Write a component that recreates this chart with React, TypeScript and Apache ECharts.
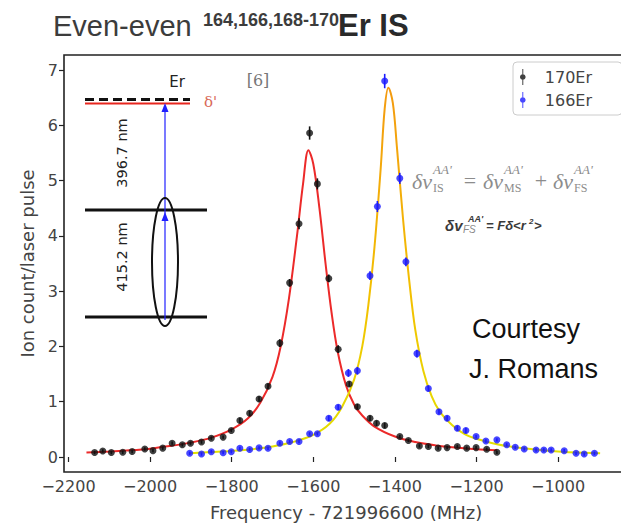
import React, { useEffect, useRef } from 'react';
import * as echarts from 'echarts';

// ---- 170Er measured points (MHz offset, ion count / laser pulse) ----
const freq170 = [-2136, -2116, -2095, -2067, -2044, -2013, -1993, -1969, -1946, -1921, -1901, -1874, -1850, -1821, -1801, -1780, -1756, -1733, -1711, -1682, -1658, -1635, -1609, -1590, -1562, -1539, -1512, -1492, -1461, -1445, -1425, -1388, -1367, -1340, -1318, -1294, -1272, -1247, -1224, -1201, -1175, -1150];
const ion170 = [0.08, 0.11, 0.08, 0.085, 0.10, 0.145, 0.115, 0.16, 0.25, 0.22, 0.25, 0.27, 0.34, 0.36, 0.48, 0.66, 0.79, 1.05, 1.28, 2.06, 3.15, 4.22, 5.86, 4.94, 3.23, 1.95, 1.32, 0.91, 0.70, 0.61, 0.57, 0.37, 0.30, 0.20, 0.19, 0.16, 0.17, 0.19, 0.16, 0.17, 0.14, 0.085];
const err170 = [0.03, 0.03, 0.03, 0.03, 0.03, 0.03, 0.03, 0.03, 0.03, 0.03, 0.03, 0.03, 0.03, 0.03, 0.03, 0.05, 0.05, 0.05, 0.05, 0.07, 0.07, 0.1, 0.12, 0.1, 0.07, 0.07, 0.05, 0.05, 0.05, 0.05, 0.05, 0.03, 0.03, 0.03, 0.03, 0.03, 0.03, 0.03, 0.03, 0.03, 0.03, 0.03];

// ---- 166Er measured points ----
const freq166 = [-1903, -1874, -1850, -1821, -1801, -1780, -1756, -1733, -1711, -1682, -1658, -1635, -1609, -1590, -1562, -1539, -1514, -1492, -1461, -1443, -1425, -1388, -1373, -1346, -1318, -1292, -1272, -1247, -1226, -1201, -1177, -1150, -1126, -1105, -1083, -1054, -1035, -1017, -985, -956, -936, -911];
const ion166 = [0.067, 0.054, 0.096, 0.078, 0.096, 0.157, 0.135, 0.165, 0.157, 0.25, 0.28, 0.28, 0.42, 0.42, 0.70, 0.90, 1.52, 1.56, 3.28, 4.53, 6.80, 5.04, 3.53, 1.87, 1.24, 0.82, 0.70, 0.52, 0.48, 0.37, 0.29, 0.31, 0.22, 0.175, 0.145, 0.127, 0.127, 0.127, 0.114, 0.067, 0.054, 0.067];
const err166 = [0.03, 0.03, 0.03, 0.03, 0.03, 0.03, 0.03, 0.03, 0.03, 0.03, 0.03, 0.03, 0.03, 0.03, 0.05, 0.05, 0.07, 0.07, 0.08, 0.1, 0.13, 0.1, 0.08, 0.07, 0.05, 0.05, 0.05, 0.05, 0.05, 0.03, 0.03, 0.03, 0.03, 0.03, 0.03, 0.03, 0.03, 0.03, 0.03, 0.03, 0.03, 0.03];

// ---- fitted curves ----
const fit170X = [-2156, -2100, -2050, -2000, -1950, -1900, -1850, -1800, -1760, -1730, -1700, -1680, -1660, -1640, -1625, -1612, -1600, -1585, -1570, -1555, -1540, -1520, -1500, -1480, -1450, -1400, -1350, -1300, -1250, -1200, -1150];
const fit170Y = [0.08, 0.10, 0.12, 0.15, 0.20, 0.26, 0.35, 0.50, 0.70, 0.98, 1.45, 2.0, 2.85, 4.0, 4.95, 5.55, 5.3, 4.5, 3.5, 2.6, 1.9, 1.3, 0.95, 0.75, 0.55, 0.37, 0.27, 0.21, 0.17, 0.14, 0.12];
const fit166X = [-1903, -1850, -1800, -1750, -1700, -1650, -1600, -1560, -1530, -1500, -1480, -1465, -1450, -1435, -1425, -1416, -1405, -1395, -1380, -1365, -1350, -1330, -1310, -1290, -1260, -1230, -1200, -1150, -1100, -1050, -1000, -950, -897];
const fit166Y = [0.07, 0.09, 0.11, 0.14, 0.19, 0.27, 0.40, 0.60, 0.90, 1.40, 2.0, 2.75, 3.8, 5.2, 6.3, 6.68, 6.4, 5.6, 4.3, 3.2, 2.3, 1.55, 1.1, 0.82, 0.58, 0.42, 0.33, 0.23, 0.17, 0.13, 0.10, 0.08, 0.07];

// ---- axis ticks ----
const xMin = -2200;
const xMax = -800;
const xStep = 200;
const yMin = 0;
const yMax = 7;
const yStep = 1;

const legendNames = ['170Er', '166Er'];

const ERR_ICON = 'path://M4.4,0 L5.6,0 L5.6,20 L4.4,20 Z M5,6.5 C7,6.5 8.5,8 8.5,10 C8.5,12 7,13.5 5,13.5 C3,13.5 1.5,12 1.5,10 C1.5,8 3,6.5 5,6.5 Z';

const minus = (v: number) => String(v).replace('-', '\u2212');

function txt(x: number, y: number, text: string, s: any, extra: any = {}) {
  return {
    type: 'text',
    x,
    y,
    silent: true,
    ...extra,
    style: { text, align: 'left', verticalAlign: 'middle', ...s },
  };
}

export default function App() {
  const ref = useRef<HTMLDivElement>(null);

  useEffect(() => {
    if (!ref.current) return;
    const chart = echarts.init(ref.current, undefined, { renderer: 'svg' });

    const pts170 = freq170.map((f, i) => [f, ion170[i]]);
    const pts166 = freq166.map((f, i) => [f, ion166[i]]);
    const eb170 = freq170.map((f, i) => [f, ion170[i] - err170[i], ion170[i] + err170[i]]);
    const eb166 = freq166.map((f, i) => [f, ion166[i] - err166[i], ion166[i] + err166[i]]);
    const line170 = fit170X.map((f, i) => [f, fit170Y[i]]);
    const line166 = fit166X.map((f, i) => [f, fit166Y[i]]);

    const errRender = (color: string) => (params: any, api: any) => {
      const x = api.value(0);
      const p1 = api.coord([x, api.value(1)]);
      const p2 = api.coord([x, api.value(2)]);
      return {
        type: 'line',
        shape: { x1: p1[0], y1: p1[1], x2: p2[0], y2: p2[1] },
        style: { stroke: color, lineWidth: 1.6 },
      };
    };

    const serifMath = { fontFamily: 'Liberation Serif', fontStyle: 'italic', fill: '#8c8c8c' };
    const serifRoman = { fontFamily: 'Liberation Serif', fill: '#8c8c8c' };
    const boldMath = { fontFamily: 'Liberation Sans', fontStyle: 'italic', fontWeight: 'bold', fill: '#3a3a3a' };

    const axisFont = { fontFamily: 'DejaVu Sans', color: '#444' };

    const option: any = {
      animation: false,
      backgroundColor: '#ffffff',
      grid: { left: 68.5, top: 70, width: 571.2, height: 387, containLabel: false, outerBoundsMode: 'none' },
      xAxis: {
        type: 'value',
        min: xMin,
        max: xMax,
        interval: xStep,
        offset: 15,
        axisLine: { show: false },
        axisTick: { show: true, length: 5, lineStyle: { color: '#222', width: 1.2 } },
        axisLabel: { ...axisFont, fontSize: 16, margin: 6, formatter: minus, showMaxLabel: false },
        splitLine: { show: false },
        name: 'Frequency - 721996600 (MHz)',
        nameLocation: 'middle',
        nameGap: 31,
        nameTextStyle: { ...axisFont, fontSize: 18, padding: [0, 16, 0, 0] },
      },
      yAxis: {
        type: 'value',
        min: yMin,
        max: yMax,
        interval: yStep,
        offset: 4.5,
        axisLine: { show: false },
        axisTick: { show: true, length: 5, lineStyle: { color: '#222', width: 1.2 } },
        axisLabel: { ...axisFont, fontSize: 16, margin: 6 },
        splitLine: { show: false },
        name: 'Ion count/laser pulse',
        nameLocation: 'middle',
        nameGap: 25,
        nameTextStyle: { ...axisFont, fontSize: 18 },
      },
      legend: {
        left: 513,
        top: 62,
        orient: 'vertical',
        selectedMode: false,
        padding: [7, 30, 7, 7],
        itemWidth: 34,
        itemHeight: 16,
        itemGap: 7,
        backgroundColor: 'rgba(255,255,255,0.9)',
        borderColor: '#cccccc',
        borderWidth: 1,
        borderRadius: 4,
        textStyle: { fontFamily: 'DejaVu Sans', fontSize: 16, color: '#444' },
        data: [
          { name: legendNames[0], icon: ERR_ICON, itemStyle: { color: '#111' } },
          { name: legendNames[1], icon: ERR_ICON, itemStyle: { color: '#1a1aff' } },
        ],
      },
      series: [
        {
          type: 'line',
          name: 'fit170',
          data: line170,
          smooth: 0.35,
          showSymbol: false,
          lineStyle: { color: '#ec2a2a', width: 2 },
          z: 2,
        },
        {
          type: 'line',
          name: 'fit166',
          data: line166,
          smooth: 0.35,
          showSymbol: false,
          lineStyle: {
            width: 2,
            color: new echarts.graphic.LinearGradient(0, 0, 0, 1, [
              { offset: 0, color: '#f39a10' },
              { offset: 0.6, color: '#f2c200' },
              { offset: 1, color: '#e2e200' },
            ]),
          },
          z: 2,
        },
        {
          type: 'custom',
          name: 'err170',
          data: eb170,
          encode: { x: 0, y: [1, 2] },
          renderItem: errRender('#111'),
          z: 3,
        },
        {
          type: 'custom',
          name: 'err166',
          data: eb166,
          encode: { x: 0, y: [1, 2] },
          renderItem: errRender('#1a1aff'),
          z: 3,
        },
        {
          type: 'scatter',
          name: legendNames[0],
          data: pts170,
          symbol: 'circle',
          symbolSize: 7,
          itemStyle: { color: '#111' },
          z: 4,
        },
        {
          type: 'scatter',
          name: legendNames[1],
          data: pts166,
          symbol: 'circle',
          symbolSize: 7,
          itemStyle: { color: '#1a1aff' },
          z: 4,
        },
      ],
      graphic: [
        // axes frame
        {
          type: 'rect',
          silent: true,
          z: 50,
          shape: { x: 64, y: 55, width: 600, height: 417 },
          style: { fill: 'none', stroke: '#222', lineWidth: 1.6 },
        },
        // title
        txt(53, 26, 'Even-even', { fontFamily: 'Liberation Sans', fontSize: 29, fill: '#3c3c3c' }),
        txt(203, 20, '164,166,168-170', { fontFamily: 'Liberation Sans', fontSize: 18, fontWeight: 'bold', fill: '#3c3c3c' }),
        txt(338, 25, 'Er IS', { fontFamily: 'Liberation Sans', fontSize: 31, fontWeight: 'bold', fill: '#2a2a2a' }),

        // inset: level scheme
        {
          type: 'group',
          silent: true,
          z: 20,
          children: [
            txt(177, 82, 'Er', { fontFamily: 'DejaVu Sans', fontSize: 15, fill: '#222', align: 'center' }),
            txt(258, 80, '[6]', { fontFamily: 'DejaVu Serif', fontSize: 16, fill: '#777', align: 'center' }),
            txt(204, 102, "δ'", { fontFamily: 'DejaVu Serif', fontSize: 15, fill: '#d96a5a' }),
            {
              type: 'line',
              shape: { x1: 85, y1: 103.5, x2: 190, y2: 103.5 },
              style: { stroke: '#e8261e', lineWidth: 2 },
            },
            {
              type: 'line',
              shape: { x1: 85, y1: 99.5, x2: 190, y2: 99.5 },
              style: { stroke: '#111', lineWidth: 3.2, lineDash: [9, 5] },
            },
            {
              type: 'line',
              shape: { x1: 85, y1: 210, x2: 207, y2: 210 },
              style: { stroke: '#111', lineWidth: 3 },
            },
            {
              type: 'line',
              shape: { x1: 85, y1: 317, x2: 207, y2: 317 },
              style: { stroke: '#111', lineWidth: 3 },
            },
            {
              type: 'line',
              shape: { x1: 165, y1: 106, x2: 165, y2: 320 },
              style: { stroke: '#2020ff', lineWidth: 1.2 },
            },
            {
              type: 'polygon',
              shape: { points: [[165, 103], [161.5, 112], [168.5, 112]] },
              style: { fill: '#2020ff' },
            },
            {
              type: 'polygon',
              shape: { points: [[165, 212], [161.5, 221], [168.5, 221]] },
              style: { fill: '#2020ff' },
            },
            {
              type: 'ellipse',
              shape: { cx: 165, cy: 262, rx: 13, ry: 64 },
              style: { fill: 'none', stroke: '#111', lineWidth: 2 },
            },
            txt(122, 153, '396.7 nm', { fontFamily: 'DejaVu Sans', fontSize: 14.5, fill: '#222', align: 'center' }, { rotation: Math.PI / 2 }),
            txt(122, 257, '415.2 nm', { fontFamily: 'DejaVu Sans', fontSize: 14.5, fill: '#222', align: 'center' }, { rotation: Math.PI / 2 }),
          ],
        },

        // isotope-shift formula
        {
          type: 'group',
          silent: true,
          z: 20,
          children: [
            txt(412, 181, 'δν', { ...serifMath, fontSize: 22 }),
            txt(433, 169, "AA'", { ...serifMath, fontSize: 13 }),
            txt(433, 188, 'IS', { ...serifRoman, fontSize: 12 }),
            txt(470, 180, '=', { ...serifRoman, fontSize: 22, align: 'center' }),
            txt(483, 181, 'δν', { ...serifMath, fontSize: 22 }),
            txt(504, 169, "AA'", { ...serifMath, fontSize: 13 }),
            txt(504, 188, 'MS', { ...serifRoman, fontSize: 12 }),
            txt(541, 180, '+', { ...serifRoman, fontSize: 22, align: 'center' }),
            txt(553, 181, 'δν', { ...serifMath, fontSize: 22 }),
            txt(574, 169, "AA'", { ...serifMath, fontSize: 13 }),
            txt(574, 188, 'FS', { ...serifRoman, fontSize: 12 }),

            txt(445, 225, 'δv', { ...boldMath, fontSize: 15 }),
            txt(463, 229, 'FS', { ...boldMath, fontWeight: 'normal', fill: '#888', fontSize: 10 }),
            txt(468, 219, "AA'", { ...boldMath, fontSize: 9 }),
            txt(486, 225, '= Fδ<r', { ...boldMath, fontSize: 13 }),
            txt(529, 221, '2', { ...boldMath, fontSize: 8 }),
            txt(534, 225, '>', { ...boldMath, fontSize: 13 }),
          ],
        },

        // courtesy note
        txt(472, 329, 'Courtesy', { fontFamily: 'Liberation Sans', fontSize: 27, fill: '#111' }),
        txt(469, 369, 'J. Romans', { fontFamily: 'Liberation Sans', fontSize: 27, fill: '#111' }),
      ],
    };

    chart.setOption(option);
    return () => chart.dispose();
  }, []);

  return (
    <div
      ref={ref}
      style={{ position: 'absolute', left: 0, top: 0, width: 621, height: 525, overflow: 'hidden', background: '#fff' }}
    />
  );
}
